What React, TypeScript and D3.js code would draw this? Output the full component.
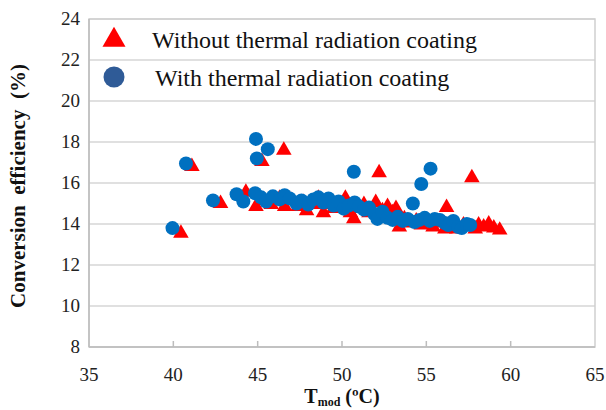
import React from "react";
import * as d3 from "d3";

// Tmod (degC), efficiency (%)
const withoutCoating: [number, number][] = [
  [40.45, 13.6], [41.1, 16.85], [42.8, 15.05], [44.3, 15.6], [44.9, 14.9], [45.25, 17.1],
  [45.4, 15.2], [45.8, 15.0], [46.3, 15.3], [46.55, 17.65], [46.6, 14.9], [47.0, 15.2],
  [47.4, 14.9], [47.7, 15.1], [47.9, 14.7], [48.3, 15.0], [48.6, 15.3], [48.9, 14.6],
  [49.2, 15.0], [49.5, 14.8], [49.9, 14.9], [50.2, 15.3], [50.5, 14.6], [50.7, 14.3],
  [51.0, 14.8], [51.3, 15.0], [51.6, 14.6], [52.0, 15.1], [52.2, 16.55], [52.4, 14.7],
  [52.7, 14.9], [53.0, 14.6], [53.2, 14.8], [53.4, 13.9], [53.7, 14.3], [54.0, 14.1],
  [54.4, 14.2], [54.7, 14.0], [55.0, 14.2], [55.4, 13.9], [55.8, 14.1], [56.1, 13.8],
  [56.2, 14.85], [56.5, 14.0], [56.8, 13.8], [57.2, 14.0], [57.7, 16.3], [57.9, 13.8],
  [58.1, 14.0], [58.4, 13.9], [58.7, 14.05], [59.0, 13.85], [59.35, 13.75],
];

const withCoating: [number, number][] = [
  [39.95, 13.8], [40.75, 16.95], [42.35, 15.15], [43.75, 15.45], [44.15, 15.1], [44.85, 15.5],
  [44.9, 18.15], [44.95, 17.2], [45.2, 15.3], [45.6, 17.65], [45.5, 15.1], [45.9, 15.35],
  [46.3, 15.2], [46.6, 15.4], [46.9, 15.25], [47.3, 15.0], [47.6, 15.15], [48.0, 14.95],
  [48.3, 15.2], [48.6, 15.3], [48.9, 15.05], [49.2, 15.25], [49.5, 14.9], [49.8, 15.1],
  [50.1, 14.75], [50.4, 14.9], [50.7, 16.55], [50.75, 15.05], [51.0, 14.85], [51.3, 14.7],
  [51.6, 14.8], [51.9, 14.5], [52.1, 14.25], [52.4, 14.6], [52.7, 14.3], [53.0, 14.2],
  [53.3, 14.35], [53.6, 14.15], [53.9, 14.25], [54.2, 15.0], [54.3, 14.1], [54.6, 14.2],
  [54.7, 15.95], [54.9, 14.3], [55.25, 16.7], [55.2, 14.15], [55.5, 14.25], [55.8, 14.2],
  [56.1, 14.05], [56.3, 13.95], [56.6, 14.15], [56.9, 13.85], [57.1, 13.8], [57.4, 14.0],
  [57.6, 13.95],
];

const xTicks = [35, 40, 45, 50, 55, 60, 65];
const yTicks = [8, 10, 12, 14, 16, 18, 20, 22, 24];
const legendLabels = ["Without thermal radiation coating", "With thermal radiation coating"];

const serif = "Liberation Serif, DejaVu Serif, serif";

const App = () => {
  const left = 89, right = 595, top = 19, bottom = 347;
  const x = d3.scaleLinear().domain([35, 65]).range([left, right]);
  const y = d3.scaleLinear().domain([8, 24]).range([bottom, top]);
  const tri = d3.symbol().type(d3.symbolTriangle).size(105);
  const bigTri = d3.symbol().type(d3.symbolTriangle).size(230);

  return (
    <svg width={606} height={410} style={{ position: "absolute", left: 0, top: 0, background: "#fff" }}>
      {/* grid */}
      {yTicks.map((t) => (
        <line key={t} x1={left} x2={right} y1={y(t)} y2={y(t)} stroke="#d6d6d6" strokeWidth={1.5} />
      ))}
      <rect x={left} y={top} width={right - left} height={bottom - top} fill="none" stroke="#cfcfcf" strokeWidth={1.5} />
      <line x1={left} x2={left} y1={top} y2={bottom} stroke="#bdbdbd" strokeWidth={1.5} />
      <line x1={left} x2={right} y1={bottom} y2={bottom} stroke="#bdbdbd" strokeWidth={1.5} />
      {xTicks.slice(1, -1).map((t) => (
        <line key={t} x1={x(t)} x2={x(t)} y1={bottom} y2={bottom - 6} stroke="#bdbdbd" strokeWidth={1.5} />
      ))}

      {/* tick labels */}
      {yTicks.map((t) => (
        <text key={t} x={80} y={y(t) + 6} textAnchor="end" fontFamily={serif} fontSize={19} fill="#222">
          {t}
        </text>
      ))}
      {xTicks.map((t) => (
        <text key={t} x={x(t)} y={381} textAnchor="middle" fontFamily={serif} fontSize={19} fill="#222">
          {t}
        </text>
      ))}

      {/* axis titles */}
      <text
        transform={`translate(25,${(top + bottom) / 2 + 3}) rotate(-90)`}
        textAnchor="middle"
        fontFamily={serif}
        fontWeight="bold"
        fontSize={21}
        fill="#111"
        style={{ whiteSpace: "pre" }}
      >
        {"Conversion  efficiency  (%)"}
      </text>
      <text x={342} y={403} textAnchor="middle" fontFamily={serif} fontWeight="bold" fontSize={20} fill="#111">
        T<tspan fontSize={12} dy={3}>mod</tspan>
        <tspan dy={-3}> (</tspan>
        <tspan>ºC)</tspan>
      </text>

      {/* data: triangles under circles */}
      {withoutCoating.map(([a, b], i) => (
        <path key={"t" + i} d={tri() as string} transform={`translate(${x(a)},${y(b) + 1})`} fill="#ff0000" />
      ))}
      {withCoating.map(([a, b], i) => (
        <circle key={"c" + i} cx={x(a)} cy={y(b)} r={7} fill="#0070c0" />
      ))}

      {/* legend */}
      <path d={bigTri() as string} transform="translate(114,40)" fill="#ff0000" />
      <circle cx={114} cy={77} r={10.5} fill="#2f5b97" />
      <text x={152} y={48} fontFamily={serif} fontSize={24} fill="#111">
        {legendLabels[0]}
      </text>
      <text x={155} y={86} fontFamily={serif} fontSize={24} fill="#111">
        {legendLabels[1]}
      </text>
    </svg>
  );
};

export default App;
